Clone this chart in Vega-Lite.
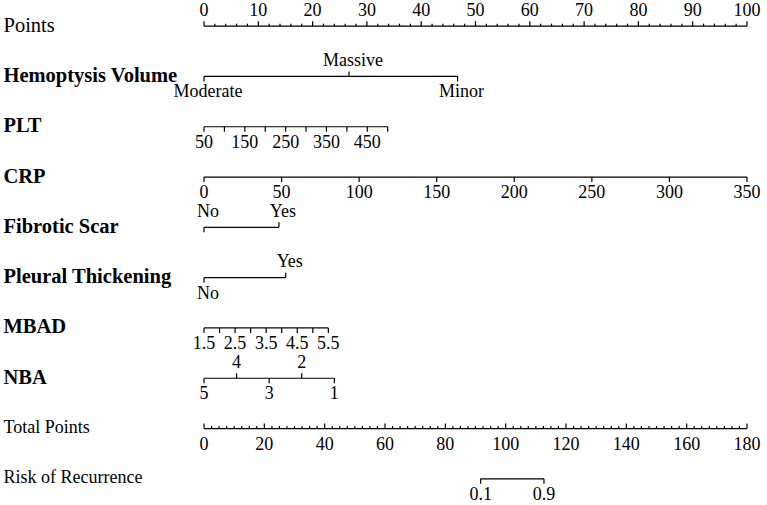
{
  "$schema": "https://vega.github.io/schema/vega-lite/v6.json",
  "description": "Nomogram for the risk of recurrence: each predictor is read off against the Points scale, the points are summed on Total Points, and the total is mapped to risk.",
  "width": 543,
  "height": 505,
  "padding": {"left": 3, "right": 0, "top": 0, "bottom": 0},
  "autosize": {"type": "pad"},
  "config": {
    "view": {"stroke": null},
    "font": "Liberation Serif"
  },
  "datasets": {
    "nomogram": [
      {"row": "Points", "pts": 0, "label": "0"}, {"row": "Points", "pts": 2}, {"row": "Points", "pts": 4}, {"row": "Points", "pts": 6}, {"row": "Points", "pts": 8},
      {"row": "Points", "pts": 10, "label": "10"}, {"row": "Points", "pts": 12}, {"row": "Points", "pts": 14}, {"row": "Points", "pts": 16}, {"row": "Points", "pts": 18},
      {"row": "Points", "pts": 20, "label": "20"}, {"row": "Points", "pts": 22}, {"row": "Points", "pts": 24}, {"row": "Points", "pts": 26}, {"row": "Points", "pts": 28},
      {"row": "Points", "pts": 30, "label": "30"}, {"row": "Points", "pts": 32}, {"row": "Points", "pts": 34}, {"row": "Points", "pts": 36}, {"row": "Points", "pts": 38},
      {"row": "Points", "pts": 40, "label": "40"}, {"row": "Points", "pts": 42}, {"row": "Points", "pts": 44}, {"row": "Points", "pts": 46}, {"row": "Points", "pts": 48},
      {"row": "Points", "pts": 50, "label": "50"}, {"row": "Points", "pts": 52}, {"row": "Points", "pts": 54}, {"row": "Points", "pts": 56}, {"row": "Points", "pts": 58},
      {"row": "Points", "pts": 60, "label": "60"}, {"row": "Points", "pts": 62}, {"row": "Points", "pts": 64}, {"row": "Points", "pts": 66}, {"row": "Points", "pts": 68},
      {"row": "Points", "pts": 70, "label": "70"}, {"row": "Points", "pts": 72}, {"row": "Points", "pts": 74}, {"row": "Points", "pts": 76}, {"row": "Points", "pts": 78},
      {"row": "Points", "pts": 80, "label": "80"}, {"row": "Points", "pts": 82}, {"row": "Points", "pts": 84}, {"row": "Points", "pts": 86}, {"row": "Points", "pts": 88},
      {"row": "Points", "pts": 90, "label": "90"}, {"row": "Points", "pts": 92}, {"row": "Points", "pts": 94}, {"row": "Points", "pts": 96}, {"row": "Points", "pts": 98},
      {"row": "Points", "pts": 100, "label": "100"},

      {"row": "Hemoptysis Volume", "pts": 0, "label": "Moderate"},
      {"row": "Hemoptysis Volume", "pts": 26.7, "label": "Massive"},
      {"row": "Hemoptysis Volume", "pts": 46.7, "label": "Minor"},

      {"row": "PLT", "pts": 0, "label": "50"},
      {"row": "PLT", "pts": 3.76},
      {"row": "PLT", "pts": 7.52, "label": "150"},
      {"row": "PLT", "pts": 11.28},
      {"row": "PLT", "pts": 15.04, "label": "250"},
      {"row": "PLT", "pts": 18.79},
      {"row": "PLT", "pts": 22.55, "label": "350"},
      {"row": "PLT", "pts": 26.31},
      {"row": "PLT", "pts": 30.07, "label": "450"},
      {"row": "PLT", "pts": 33.83},

      {"row": "CRP", "pts": 0, "label": "0"},
      {"row": "CRP", "pts": 14.29, "label": "50"},
      {"row": "CRP", "pts": 28.57, "label": "100"},
      {"row": "CRP", "pts": 42.86, "label": "150"},
      {"row": "CRP", "pts": 57.14, "label": "200"},
      {"row": "CRP", "pts": 71.43, "label": "250"},
      {"row": "CRP", "pts": 85.71, "label": "300"},
      {"row": "CRP", "pts": 100, "label": "350"},

      {"row": "Fibrotic Scar", "pts": 0, "label": "No"},
      {"row": "Fibrotic Scar", "pts": 13.8, "label": "Yes"},

      {"row": "Pleural Thickening", "pts": 0, "label": "No"},
      {"row": "Pleural Thickening", "pts": 15.05, "label": "Yes"},

      {"row": "MBAD", "pts": 0, "label": "1.5"},
      {"row": "MBAD", "pts": 2.86},
      {"row": "MBAD", "pts": 5.73, "label": "2.5"},
      {"row": "MBAD", "pts": 8.59},
      {"row": "MBAD", "pts": 11.45, "label": "3.5"},
      {"row": "MBAD", "pts": 14.31},
      {"row": "MBAD", "pts": 17.18, "label": "4.5"},
      {"row": "MBAD", "pts": 20.04},
      {"row": "MBAD", "pts": 22.9, "label": "5.5"},

      {"row": "NBA", "pts": 0, "label": "5"},
      {"row": "NBA", "pts": 6, "label": "4"},
      {"row": "NBA", "pts": 12, "label": "3"},
      {"row": "NBA", "pts": 18, "label": "2"},
      {"row": "NBA", "pts": 24, "label": "1"}
    ],
    "totals": [
      {"row": "Total Points", "total": 0, "label": "0"}, {"row": "Total Points", "total": 2.5}, {"row": "Total Points", "total": 5}, {"row": "Total Points", "total": 7.5},
      {"row": "Total Points", "total": 10}, {"row": "Total Points", "total": 12.5}, {"row": "Total Points", "total": 15}, {"row": "Total Points", "total": 17.5},
      {"row": "Total Points", "total": 20, "label": "20"}, {"row": "Total Points", "total": 22.5}, {"row": "Total Points", "total": 25}, {"row": "Total Points", "total": 27.5},
      {"row": "Total Points", "total": 30}, {"row": "Total Points", "total": 32.5}, {"row": "Total Points", "total": 35}, {"row": "Total Points", "total": 37.5},
      {"row": "Total Points", "total": 40, "label": "40"}, {"row": "Total Points", "total": 42.5}, {"row": "Total Points", "total": 45}, {"row": "Total Points", "total": 47.5},
      {"row": "Total Points", "total": 50}, {"row": "Total Points", "total": 52.5}, {"row": "Total Points", "total": 55}, {"row": "Total Points", "total": 57.5},
      {"row": "Total Points", "total": 60, "label": "60"}, {"row": "Total Points", "total": 62.5}, {"row": "Total Points", "total": 65}, {"row": "Total Points", "total": 67.5},
      {"row": "Total Points", "total": 70}, {"row": "Total Points", "total": 72.5}, {"row": "Total Points", "total": 75}, {"row": "Total Points", "total": 77.5},
      {"row": "Total Points", "total": 80, "label": "80"}, {"row": "Total Points", "total": 82.5}, {"row": "Total Points", "total": 85}, {"row": "Total Points", "total": 87.5},
      {"row": "Total Points", "total": 90}, {"row": "Total Points", "total": 92.5}, {"row": "Total Points", "total": 95}, {"row": "Total Points", "total": 97.5},
      {"row": "Total Points", "total": 100, "label": "100"}, {"row": "Total Points", "total": 102.5}, {"row": "Total Points", "total": 105}, {"row": "Total Points", "total": 107.5},
      {"row": "Total Points", "total": 110}, {"row": "Total Points", "total": 112.5}, {"row": "Total Points", "total": 115}, {"row": "Total Points", "total": 117.5},
      {"row": "Total Points", "total": 120, "label": "120"}, {"row": "Total Points", "total": 122.5}, {"row": "Total Points", "total": 125}, {"row": "Total Points", "total": 127.5},
      {"row": "Total Points", "total": 130}, {"row": "Total Points", "total": 132.5}, {"row": "Total Points", "total": 135}, {"row": "Total Points", "total": 137.5},
      {"row": "Total Points", "total": 140, "label": "140"}, {"row": "Total Points", "total": 142.5}, {"row": "Total Points", "total": 145}, {"row": "Total Points", "total": 147.5},
      {"row": "Total Points", "total": 150}, {"row": "Total Points", "total": 152.5}, {"row": "Total Points", "total": 155}, {"row": "Total Points", "total": 157.5},
      {"row": "Total Points", "total": 160, "label": "160"}, {"row": "Total Points", "total": 162.5}, {"row": "Total Points", "total": 165}, {"row": "Total Points", "total": 167.5},
      {"row": "Total Points", "total": 170}, {"row": "Total Points", "total": 172.5}, {"row": "Total Points", "total": 175}, {"row": "Total Points", "total": 177.5},
      {"row": "Total Points", "total": 180, "label": "180"},

      {"row": "Risk of Recurrence", "total": 91.7, "label": "0.1"},
      {"row": "Risk of Recurrence", "total": 112.7, "label": "0.9"}
    ]
  },
  "encoding": {
    "y": {
      "field": "row",
      "type": "nominal",
      "title": null,
      "scale": {
        "type": "point",
        "padding": 0.52,
        "domain": ["Points", "Hemoptysis Volume", "PLT", "CRP", "Fibrotic Scar", "Pleural Thickening", "MBAD", "NBA", "Total Points", "Risk of Recurrence"]
      },
      "axis": {
        "domain": false,
        "ticks": false,
        "tickSize": 0,
        "grid": false,
        "labelAlign": "left",
        "labelBaseline": "middle",
        "labelPadding": 201,
        "labelOffset": -1,
        "labelLimit": 0,
        "labelOverlap": false,
        "labelBound": false,
        "labelColor": "black",
        "labelFont": "Liberation Serif",
        "labelFontSize": {"condition": {"test": "datum.value === 'Total Points' || datum.value === 'Risk of Recurrence'", "value": 18}, "value": 20.5},
        "labelFontWeight": {"condition": {"test": "indexof(['Points', 'Total Points', 'Risk of Recurrence'], datum.value) >= 0", "value": "normal"}, "value": "bold"}
      }
    }
  },
  "layer": [
    {
      "data": {"name": "nomogram"},
      "encoding": {
        "x": {"field": "pts", "type": "quantitative", "scale": {"domain": [0, 100], "nice": false}, "axis": null}
      },
      "layer": [
        {
          "transform": [{"aggregate": [{"op": "min", "field": "pts", "as": "lo"}, {"op": "max", "field": "pts", "as": "hi"}], "groupby": ["row"]}],
          "mark": {"type": "rule", "color": "black", "strokeWidth": 1.2},
          "encoding": {
            "x": {"field": "lo", "type": "quantitative", "scale": {"domain": [0, 100], "nice": false}, "axis": null},
            "x2": {"field": "hi"}
          }
        },
        {
          "transform": [{"filter": "(datum.row === 'Points' && isValid(datum.label)) || (datum.row !== 'Points' && indexof(['Massive', 'Yes', '4', '2'], datum.label) >= 0)"}],
          "mark": {"type": "tick", "color": "black", "opacity": 1, "thickness": 1.2, "size": 5, "yOffset": -2.5}
        },
        {
          "transform": [{"filter": "datum.row === 'Points' && !isValid(datum.label)"}],
          "mark": {"type": "tick", "color": "black", "opacity": 1, "thickness": 1.2, "size": 2.5, "yOffset": -1.25}
        },
        {
          "transform": [{"filter": "datum.row !== 'Points' && indexof(['Massive', 'Yes', '4', '2'], datum.label) < 0"}],
          "mark": {"type": "tick", "color": "black", "opacity": 1, "thickness": 1.2, "size": 5, "yOffset": 2.5}
        },
        {
          "transform": [{"filter": "isValid(datum.label) && isFinite(toNumber(datum.label)) && (datum.row === 'Points' || indexof(['4', '2'], datum.label) >= 0)"}],
          "mark": {"type": "text", "fontSize": 18, "font": "Liberation Serif", "color": "black", "baseline": "alphabetic", "align": "center", "dy": -10.5},
          "encoding": {"text": {"field": "label"}}
        },
        {
          "transform": [{"filter": "isValid(datum.label) && isFinite(toNumber(datum.label)) && !(datum.row === 'Points' || indexof(['4', '2'], datum.label) >= 0)"}],
          "mark": {"type": "text", "fontSize": 18, "font": "Liberation Serif", "color": "black", "baseline": "alphabetic", "align": "center", "dy": 21},
          "encoding": {"text": {"field": "label"}}
        },
        {
          "transform": [{"filter": "isValid(datum.label) && !isFinite(toNumber(datum.label)) && (datum.row === 'Fibrotic Scar' || indexof(['Massive', 'Yes'], datum.label) >= 0)"}],
          "mark": {"type": "text", "fontSize": 18, "font": "Liberation Serif", "color": "black", "baseline": "alphabetic", "align": "center", "dx": 4, "dy": -10.5},
          "encoding": {"text": {"field": "label"}}
        },
        {
          "transform": [{"filter": "isValid(datum.label) && !isFinite(toNumber(datum.label)) && !(datum.row === 'Fibrotic Scar' || indexof(['Massive', 'Yes'], datum.label) >= 0)"}],
          "mark": {"type": "text", "fontSize": 18, "font": "Liberation Serif", "color": "black", "baseline": "alphabetic", "align": "center", "dx": 4, "dy": 21},
          "encoding": {"text": {"field": "label"}}
        }
      ]
    },
    {
      "data": {"name": "totals"},
      "encoding": {
        "x": {"field": "total", "type": "quantitative", "scale": {"domain": [0, 180], "nice": false}, "axis": null}
      },
      "layer": [
        {
          "transform": [{"aggregate": [{"op": "min", "field": "total", "as": "lo"}, {"op": "max", "field": "total", "as": "hi"}], "groupby": ["row"]}],
          "mark": {"type": "rule", "color": "black", "strokeWidth": 1.2},
          "encoding": {
            "x": {"field": "lo", "type": "quantitative", "scale": {"domain": [0, 180], "nice": false}, "axis": null},
            "x2": {"field": "hi"}
          }
        },
        {
          "transform": [{"filter": "datum.row === 'Total Points' && isValid(datum.label)"}],
          "mark": {"type": "tick", "color": "black", "opacity": 1, "thickness": 1.2, "size": 5, "yOffset": -2.5}
        },
        {
          "transform": [{"filter": "datum.row === 'Total Points' && !isValid(datum.label)"}],
          "mark": {"type": "tick", "color": "black", "opacity": 1, "thickness": 1.2, "size": 2.5, "yOffset": -1.25}
        },
        {
          "transform": [{"filter": "datum.row === 'Risk of Recurrence'"}],
          "mark": {"type": "tick", "color": "black", "opacity": 1, "thickness": 1.2, "size": 5, "yOffset": 2.5}
        },
        {
          "transform": [{"filter": "isValid(datum.label)"}],
          "mark": {"type": "text", "fontSize": 18, "font": "Liberation Serif", "color": "black", "baseline": "alphabetic", "align": "center", "dy": 21},
          "encoding": {"text": {"field": "label"}}
        }
      ]
    }
  ],
  "resolve": {"scale": {"x": "independent"}}
}
